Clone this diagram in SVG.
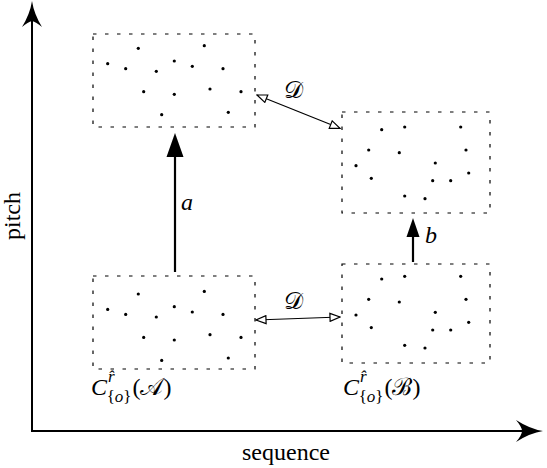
<svg xmlns="http://www.w3.org/2000/svg" width="547" height="468" viewBox="0 0 547 468">
<style>
.box{fill:none;stroke:#000;stroke-width:1.2;stroke-dasharray:3.5 8.5}
.dot{fill:#000}
.ax{stroke:#000;stroke-width:2;fill:none}
.lbl{font-family:"Liberation Serif","DejaVu Serif",serif;font-size:24px;fill:#000}
.it{font-style:italic}
.thin{stroke:#000;stroke-width:1.2;fill:none}
.thick{stroke:#000;stroke-width:2.2;fill:none}
</style>
<defs>
<marker id="open" viewBox="0 0 12 10" refX="11" refY="5" markerWidth="12" markerHeight="10" markerUnits="userSpaceOnUse" orient="auto-start-reverse">
<path d="M1,1 L11,5 L1,9 Z" fill="#fff" stroke="#000" stroke-width="1.2"/>
</marker>
<g id="dotsA">
<circle cx="138.3" cy="48.3" r="1.6"/><circle cx="204.3" cy="45.7" r="1.6"/><circle cx="107.7" cy="63.7" r="1.6"/><circle cx="125.7" cy="68.7" r="1.6"/><circle cx="156.3" cy="71.3" r="1.6"/><circle cx="174.3" cy="61" r="1.6"/><circle cx="192.3" cy="66.3" r="1.6"/><circle cx="223" cy="68.7" r="1.6"/><circle cx="143.7" cy="91.7" r="1.6"/><circle cx="174.3" cy="94.3" r="1.6"/><circle cx="210" cy="89" r="1.6"/><circle cx="241" cy="91.7" r="1.6"/><circle cx="161.7" cy="114.7" r="1.6"/><circle cx="228.3" cy="112.3" r="1.6"/>
</g>
<g id="dotsB">
<circle cx="381.7" cy="129.7" r="1.6"/><circle cx="404.7" cy="127" r="1.6"/><circle cx="460.7" cy="127" r="1.6"/><circle cx="368.7" cy="150" r="1.6"/><circle cx="399.3" cy="152.7" r="1.6"/><circle cx="466" cy="150" r="1.6"/><circle cx="356" cy="165.7" r="1.6"/><circle cx="435.3" cy="163" r="1.6"/><circle cx="371.3" cy="178.3" r="1.6"/><circle cx="432.7" cy="180.7" r="1.6"/><circle cx="450.7" cy="180.7" r="1.6"/><circle cx="468.7" cy="173" r="1.6"/><circle cx="404.7" cy="196" r="1.6"/><circle cx="425" cy="198.7" r="1.6"/>
</g>
</defs>

<g id="axes">
<path class="ax" d="M32,432 L32,14"/>
<path class="ax" d="M31,431 L530,431"/>
<path d="M32,1 Q34,14 42,27 Q36,22 32,21 Q28,22 22,27 Q30,14 32,1 Z" fill="#000"/>
<path d="M543,431 Q530,429 516,420 Q522,427 522,431 Q522,435 516,442 Q530,433 543,431 Z" fill="#000"/>
<text class="lbl" transform="translate(20,216) rotate(-90)" text-anchor="middle">pitch</text>
<text class="lbl" x="286" y="460" text-anchor="middle">sequence</text>
</g>

<g id="nodeA">
<rect class="box" x="93" y="34" width="162" height="93"/>
<use href="#dotsA"/>
</g>
<g id="nodeB">
<rect class="box" x="342" y="112" width="148" height="101"/>
<use href="#dotsB"/>
</g>
<g id="nodeA2">
<rect class="box" x="93" y="276" width="162" height="93"/>
<use href="#dotsA" transform="translate(0,245.7)"/>
<text class="lbl" font-size="27" x="91" y="395"><tspan class="it">C</tspan><tspan class="it" font-size="17" dx="1" dy="-13">r̂</tspan><tspan font-size="17" dx="-8" dy="20">{<tspan class="it">o</tspan>}</tspan><tspan dx="1" dy="-7">(𝒜)</tspan></text>
</g>
<g id="nodeB2">
<rect class="box" x="342" y="264" width="148" height="99"/>
<use href="#dotsB" transform="translate(0,149.3)"/>
<text class="lbl" font-size="27" x="343" y="395"><tspan class="it">C</tspan><tspan class="it" font-size="17" dx="1" dy="-13">r̂</tspan><tspan font-size="17" dx="-8" dy="20">{<tspan class="it">o</tspan>}</tspan><tspan dx="1" dy="-7">(ℬ)</tspan></text>
</g>

<g id="connectors">
<line class="thin" x1="257" y1="95" x2="340" y2="128.3" marker-start="url(#open)" marker-end="url(#open)"/>
<text class="lbl" x="293" y="98" text-anchor="middle">𝒟</text>
<line class="thin" x1="256" y1="320" x2="340" y2="317" marker-start="url(#open)" marker-end="url(#open)"/>
<text class="lbl" x="293" y="309" text-anchor="middle">𝒟</text>
<line class="thick" x1="175" y1="272" x2="175" y2="155"/>
<path d="M175,133 L166.5,157 L183.5,157 Z" fill="#000"/>
<text class="lbl it" x="187" y="210" text-anchor="middle" font-size="25">a</text>
<line class="thick" x1="413" y1="262" x2="413" y2="235"/>
<path d="M413,218 L406.5,237 L419.5,237 Z" fill="#000"/>
<text class="lbl it" x="431" y="243" text-anchor="middle" font-size="25">b</text>
</g>
</svg>
